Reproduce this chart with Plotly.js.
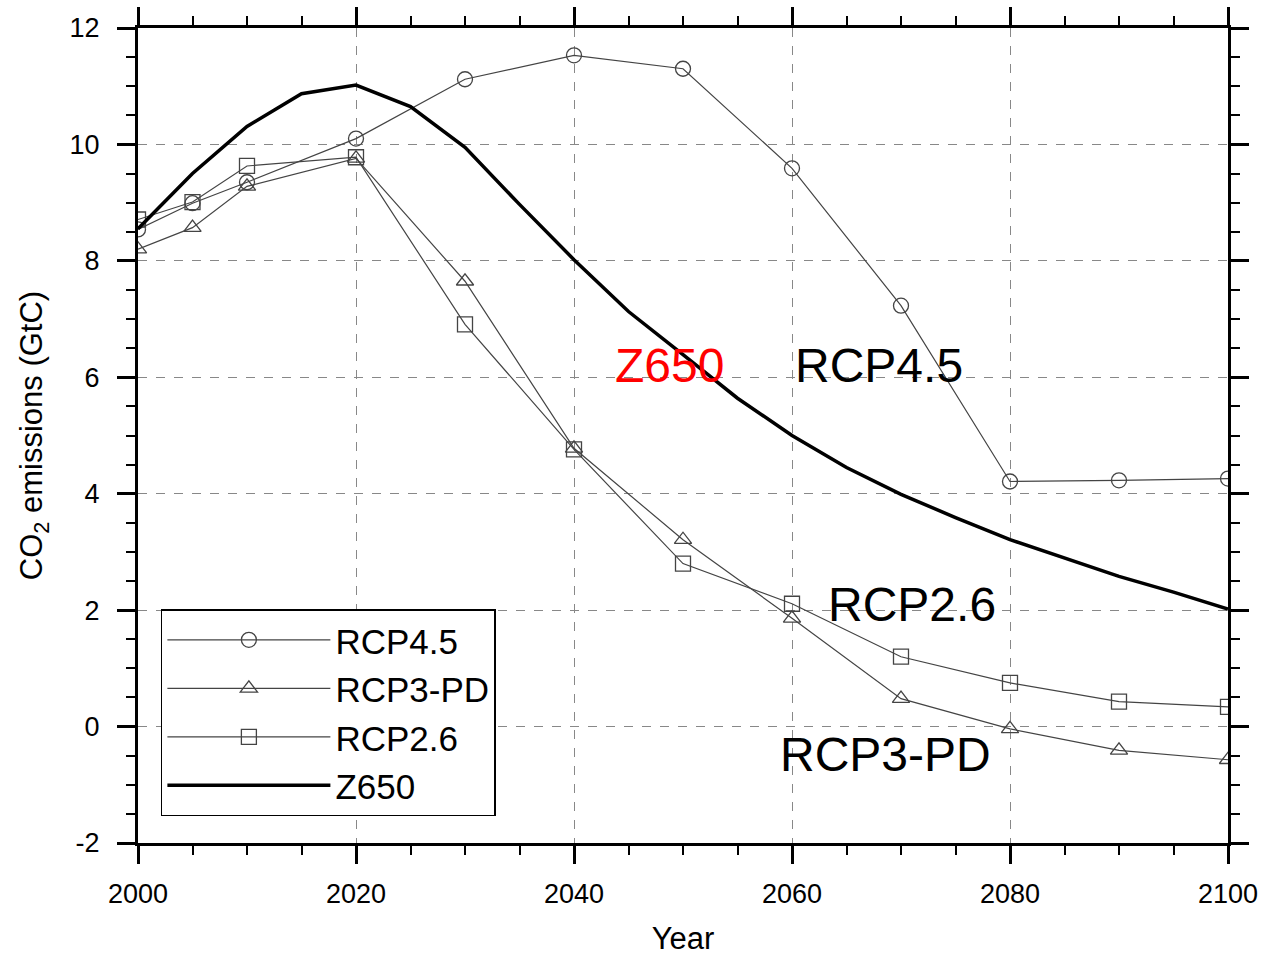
<!DOCTYPE html>
<html>
<head>
<meta charset="utf-8">
<script src="https://cdn.plot.ly/plotly-3.0.1.min.js"></script>
<style>html,body{margin:0;padding:0;background:#fff;}#chart{width:1265px;height:956px;}</style>
</head>
<body>
<div id="chart"></div>
<script>
// RCP scenarios (decadal, plus 2005)
const rcpYears = [2000, 2005, 2010, 2020, 2030, 2040, 2050, 2060, 2070, 2080, 2090, 2100];
const rcp45 = [8.54, 8.99, 9.35, 10.10, 11.12, 11.53, 11.30, 9.59, 7.23, 4.21, 4.23, 4.26];
const rcp3pd = [8.20, 8.57, 9.28, 9.76, 7.65, 4.78, 3.21, 1.86, 0.48, -0.04, -0.41, -0.57];
const rcp26 = [8.71, 9.01, 9.63, 9.78, 6.91, 4.76, 2.80, 2.11, 1.20, 0.75, 0.43, 0.34];
// Z650 pathway (5-year steps)
const zYears = [2000, 2005, 2010, 2015, 2020, 2025, 2030, 2035, 2040, 2045, 2050, 2055, 2060, 2065, 2070, 2075, 2080, 2085, 2090, 2095, 2100];
const z650 = [8.55, 9.50, 10.31, 10.87, 11.02, 10.65, 9.95, 8.97, 8.02, 7.13, 6.39, 5.64, 5.00, 4.45, 3.99, 3.59, 3.21, 2.90, 2.58, 2.31, 2.02];

const seriesNames = ['RCP4.5', 'RCP3-PD', 'RCP2.6', 'Z650'];
const labelText = ['RCP4.5', 'RCP3-PD', 'RCP2.6', 'Z650'];
const xTickVals = [2000, 2020, 2040, 2060, 2080, 2100];
const xTickText = ['2000', '2020', '2040', '2060', '2080', '2100'];
const yTickVals = [-2, 0, 2, 4, 6, 8, 10, 12];
const yTickText = ['-2', '0', '2', '4', '6', '8', '10', '12'];

const thin = {color: '#444', width: 1.2};
const mk = (sym) => ({symbol: sym, size: 15, color: '#444', line: {color: '#444', width: 1.3}});

const traces = [
  {x: rcpYears, y: rcp45, name: seriesNames[0], mode: 'lines+markers', line: thin, marker: mk('circle-open')},
  {x: rcpYears, y: rcp3pd, name: seriesNames[1], mode: 'lines+markers', line: thin, marker: mk('triangle-up-open')},
  {x: rcpYears, y: rcp26, name: seriesNames[2], mode: 'lines+markers', line: thin, marker: mk('square-open')},
  {x: zYears, y: z650, name: seriesNames[3], mode: 'lines', line: {color: '#000', width: 3.5}}
];

const fontFam = 'Liberation Sans, Arial, Helvetica, sans-serif';
const axisCommon = {
  showline: true, linecolor: '#000', linewidth: 3, mirror: 'allticks',
  ticks: 'outside', ticklen: 18, tickwidth: 3, tickcolor: '#000',
  showgrid: true, gridcolor: '#888', griddash: 'dash', gridwidth: 1,
  zeroline: false, tickmode: 'array',
  tickfont: {family: fontFam, size: 27, color: '#000'}
};

const layout = {
  width: 1265, height: 956,
  margin: {l: 138, r: 37, t: 28, b: 113},
  paper_bgcolor: '#fff', plot_bgcolor: '#fff',
  font: {family: fontFam, color: '#000'},
  xaxis: Object.assign({}, axisCommon, {
    range: [2000, 2100], tickvals: xTickVals, ticktext: xTickText,
    ticklabelstandoff: 7,
    minor: {dtick: 5, tick0: 2000, ticks: 'outside', ticklen: 9, tickwidth: 2, tickcolor: '#000', showgrid: false},
    title: {text: 'Year', font: {family: fontFam, size: 31, color: '#000'}, standoff: 31}
  }),
  yaxis: Object.assign({}, axisCommon, {
    range: [-2, 12], tickvals: yTickVals, ticktext: yTickText,
    ticklabelstandoff: 12,
    minor: {dtick: 0.5, tick0: 0, ticks: 'outside', ticklen: 9, tickwidth: 2, tickcolor: '#000', showgrid: false},
    title: {text: 'CO<sub>2</sub> emissions (GtC)', font: {family: fontFam, size: 31, color: '#000'}, standoff: 18}
  }),
  showlegend: true,
  legend: {
    x: 0.021, y: 0.287, xanchor: 'left', yanchor: 'top',
    bordercolor: '#000', borderwidth: 1.5, bgcolor: '#fff',
    font: {family: fontFam, size: 35, color: '#000'},
    itemwidth: 163, tracegroupgap: 0
  },
  annotations: [
    {x: 2048.8, y: 6.2, xref: 'x', yref: 'y', text: labelText[3], showarrow: false, font: {family: fontFam, size: 48, color: '#ff0000'}},
    {x: 2068.0, y: 6.2, xref: 'x', yref: 'y', text: labelText[0], showarrow: false, font: {family: fontFam, size: 48, color: '#000'}},
    {x: 2071.0, y: 2.1, xref: 'x', yref: 'y', text: labelText[2], showarrow: false, font: {family: fontFam, size: 48, color: '#000'}},
    {x: 2068.6, y: -0.48, xref: 'x', yref: 'y', text: labelText[1], showarrow: false, font: {family: fontFam, size: 48, color: '#000'}}
  ]
};

Plotly.newPlot('chart', traces, layout, {displayModeBar: false, staticPlot: true});
</script>
</body>
</html>
